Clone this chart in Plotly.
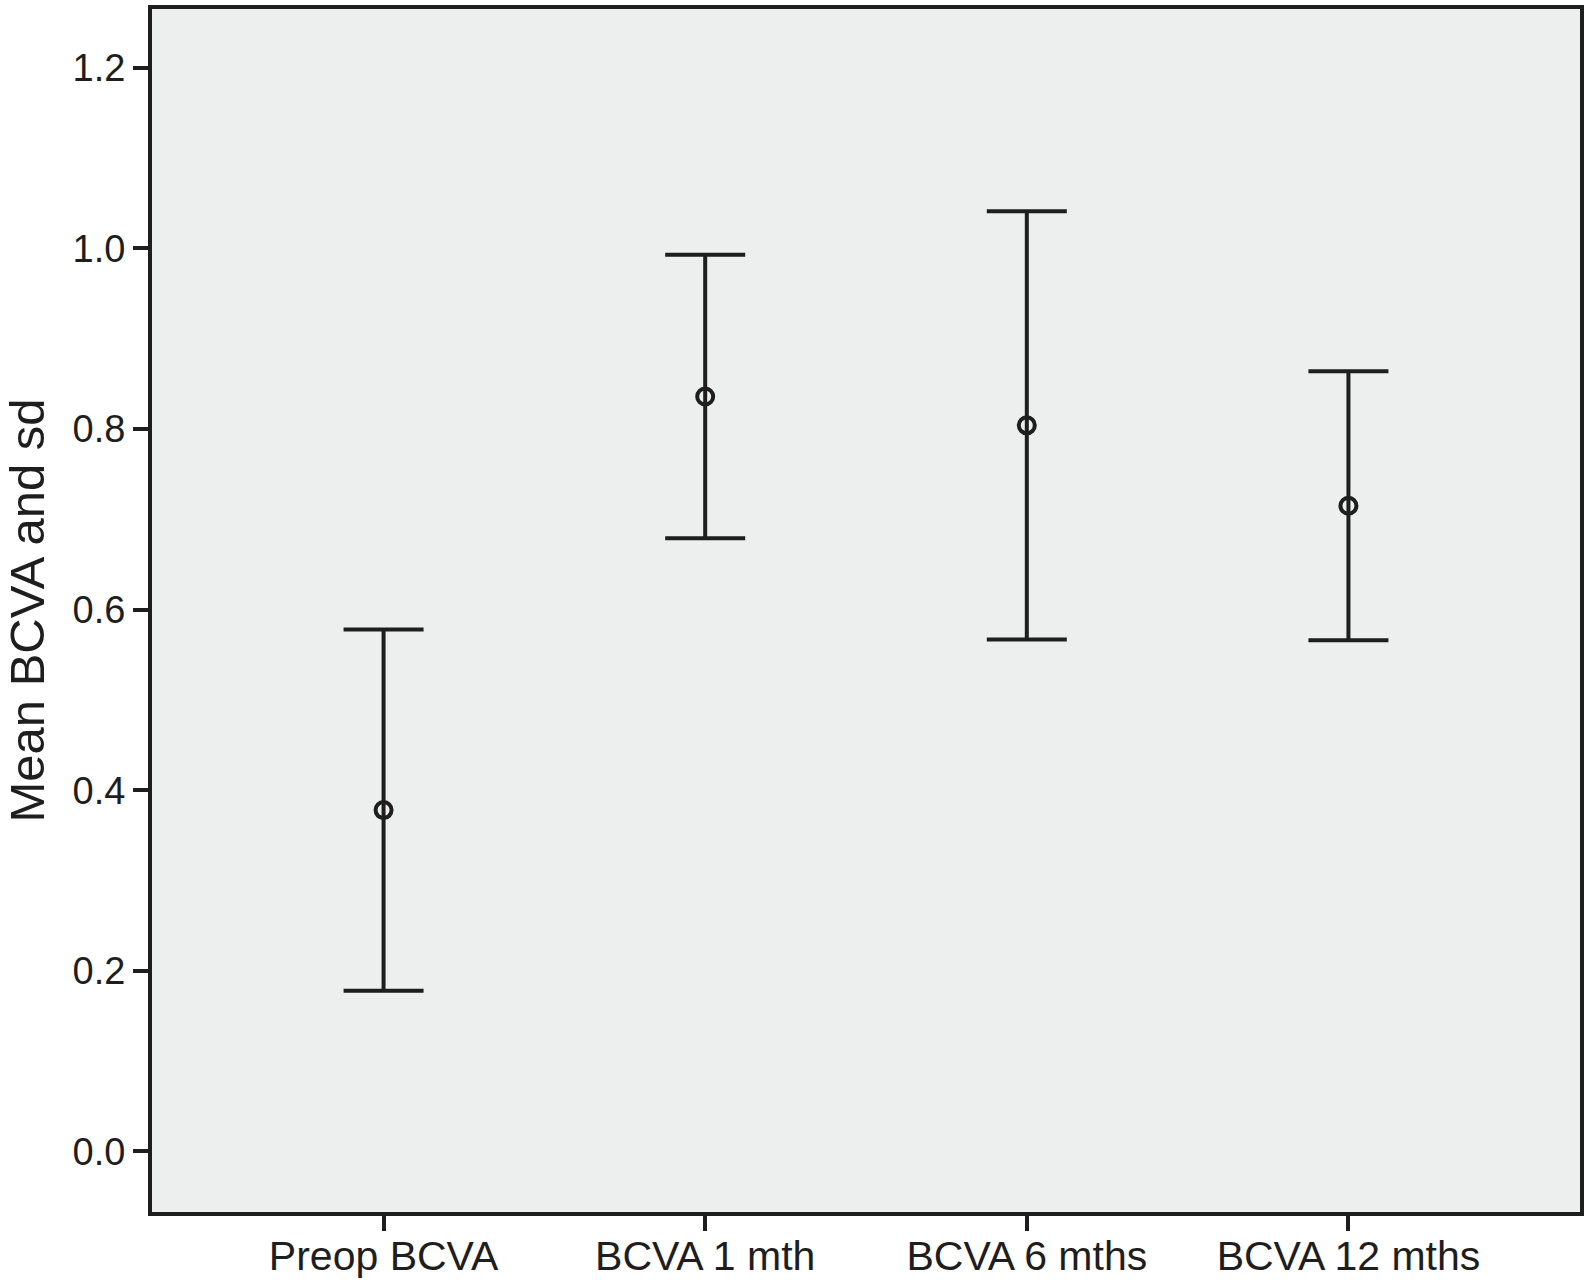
import plotly.graph_objects as go

# ─── Data ─────────────────────────────────────────────────────────────────────

categories = ["Preop BCVA", "BCVA 1 mth", "BCVA 6 mths", "BCVA 12 mths"]
mean_bcva = [0.378, 0.836, 0.804, 0.715]
sd_bcva = [0.200, 0.157, 0.237, 0.149]

y_ticks = [0.0, 0.2, 0.4, 0.6, 0.8, 1.0, 1.2]

_INK = "#1e1e1e"
_FONT = "Liberation Sans, Arial, sans-serif"

fig = go.Figure()

fig.add_trace(go.Scatter(
    x=list(range(len(categories))),
    y=mean_bcva,
    mode="markers",
    marker=dict(symbol="circle-open", size=16, color=_INK, line=dict(width=4, color=_INK)),
    error_y=dict(type="data", array=sd_bcva, visible=True, color=_INK, thickness=4, width=40),
    showlegend=False,
))

fig.update_xaxes(
    range=[-0.72, 3.72],
    tickvals=list(range(len(categories))),
    ticktext=categories,
    ticks="outside", ticklen=15, tickwidth=4, tickcolor=_INK,
    ticklabelstandoff=-10,
    showline=True, linewidth=4, linecolor=_INK, mirror=True,
    showgrid=False, zeroline=False, automargin=False,
    tickfont=dict(size=41, color=_INK, family=_FONT),
)
fig.update_yaxes(
    range=[-0.067, 1.265],
    tickvals=y_ticks,
    tickformat=".1f",
    ticks="outside", ticklen=15, tickwidth=4, tickcolor=_INK,
    showline=True, linewidth=4, linecolor=_INK, mirror=True,
    showgrid=False, zeroline=False, automargin=False,
    tickfont=dict(size=38, color=_INK, family=_FONT),
    title=dict(text="Mean BCVA and sd", font=dict(size=49, color=_INK, family=_FONT), standoff=16),
)

fig.update_layout(
    width=1584, height=1280,
    paper_bgcolor="white",
    plot_bgcolor="#edeeee",
    margin=dict(l=152, r=4, t=9, b=68),
    font=dict(family=_FONT, color=_INK),
)

# drop the browser's default 8px body margin so the figure fills the page
fig.write_html(
    "out.html",
    config={"displayModeBar": False},
    post_script="document.body.style.margin='0px';",
)
